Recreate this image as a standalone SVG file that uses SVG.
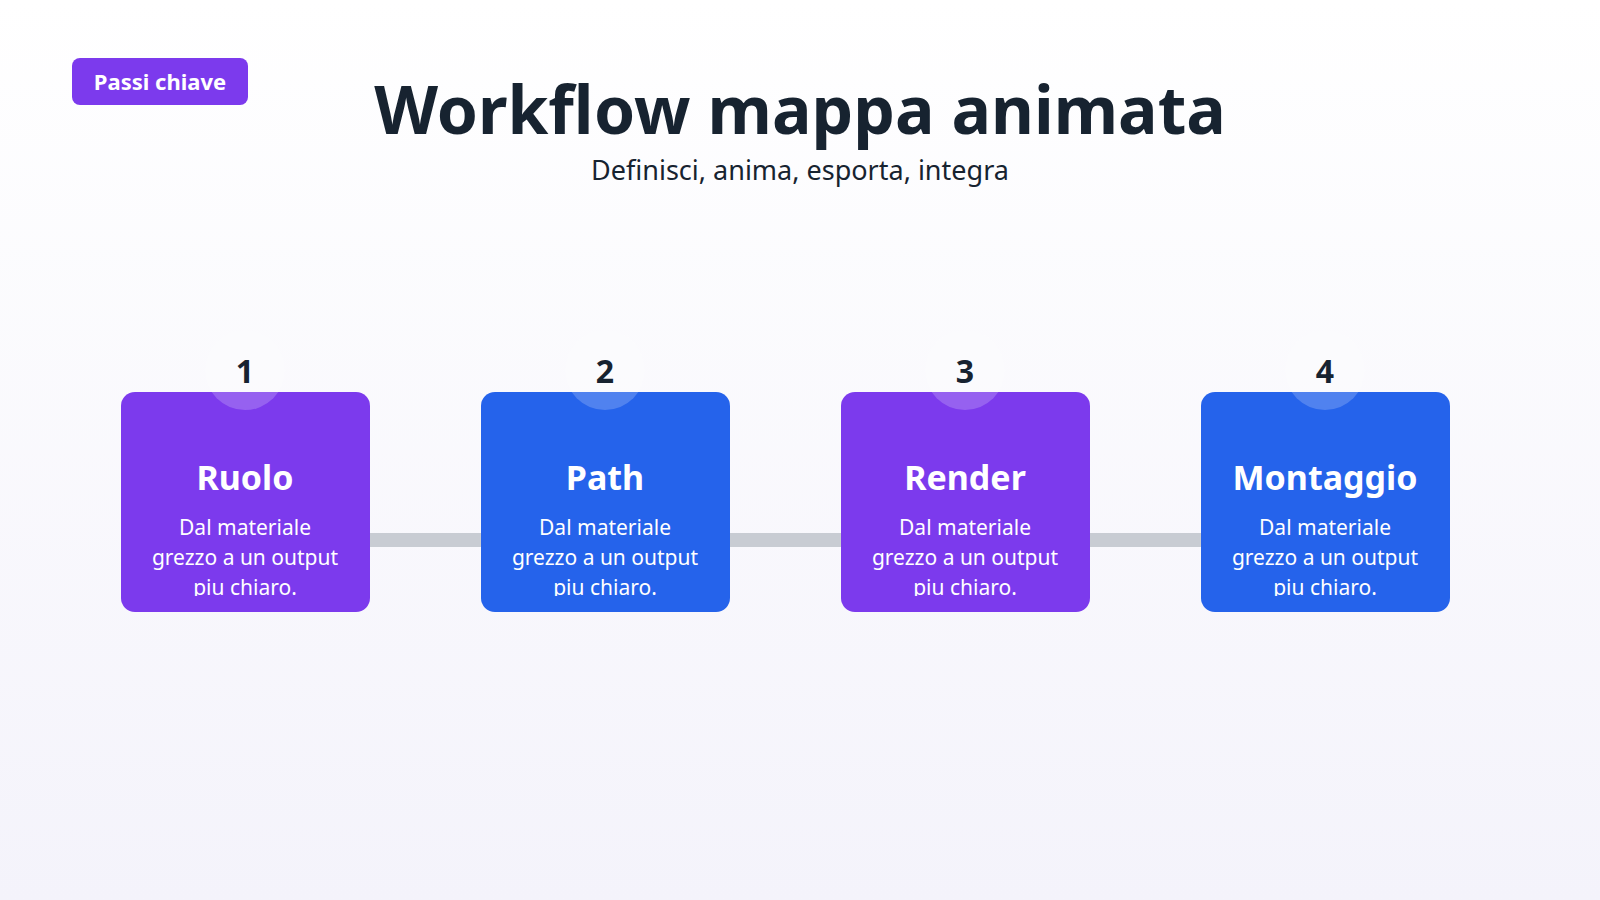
<svg xmlns="http://www.w3.org/2000/svg" width="1600" height="900" viewBox="0 0 1600 900">
<defs>
<linearGradient id="bg" x1="0" y1="0" x2="0" y2="1"><stop offset="0" stop-color="#ffffff"/><stop offset="1" stop-color="#f4f3fb"/></linearGradient>
<clipPath id="cl"><rect x="0" y="380" width="1600" height="216"/></clipPath>
</defs>
<style>
text{font-family:"Noto Sans","Open Sans",sans-serif;text-anchor:middle}
.t{font-size:34px;font-weight:700;fill:#fff}
.d{font-size:21px;fill:#fff}
.n{font-size:32px;font-weight:700;fill:#172330}
.p{fill:#7c3aed}.b{fill:#2563eb}
</style>
<rect width="1600" height="900" fill="url(#bg)"/>
<g id="badge"><rect x="72" y="58" width="176" height="47" rx="8" fill="#7c3aed"/><text x="160" y="90" style="font-size:22px;font-weight:700;fill:#fff">Passi chiave</text></g>
<text x="800" y="134" style="font-size:66px;font-weight:700;fill:#172330">Workflow mappa animata</text>
<text x="800" y="180" style="font-size:27px;fill:#172330">Definisci, anima, esporta, integra</text>
<g id="connectors"><rect x="360" y="533" width="860" height="14" fill="#c8ccd3"/></g>
<g id="n1"><rect class="p" x="121" y="392" width="249" height="220" rx="14"/><circle cx="245" cy="370" r="40" fill="#fff" fill-opacity="0.2"/><text class="n" x="245" y="383">1</text><text class="t" x="245" y="490">Ruolo</text><g clip-path="url(#cl)"><text class="d" x="245" y="535">Dal materiale</text><text class="d" x="245" y="565">grezzo a un output</text><text class="d" x="245" y="595">piu chiaro.</text></g></g>
<g id="n2"><rect class="b" x="481" y="392" width="249" height="220" rx="14"/><circle cx="605" cy="370" r="40" fill="#fff" fill-opacity="0.2"/><text class="n" x="605" y="383">2</text><text class="t" x="605" y="490">Path</text><g clip-path="url(#cl)"><text class="d" x="605" y="535">Dal materiale</text><text class="d" x="605" y="565">grezzo a un output</text><text class="d" x="605" y="595">piu chiaro.</text></g></g>
<g id="n3"><rect class="p" x="841" y="392" width="249" height="220" rx="14"/><circle cx="965" cy="370" r="40" fill="#fff" fill-opacity="0.2"/><text class="n" x="965" y="383">3</text><text class="t" x="965" y="490">Render</text><g clip-path="url(#cl)"><text class="d" x="965" y="535">Dal materiale</text><text class="d" x="965" y="565">grezzo a un output</text><text class="d" x="965" y="595">piu chiaro.</text></g></g>
<g id="n4"><rect class="b" x="1201" y="392" width="249" height="220" rx="14"/><circle cx="1325" cy="370" r="40" fill="#fff" fill-opacity="0.2"/><text class="n" x="1325" y="383">4</text><text class="t" x="1325" y="490">Montaggio</text><g clip-path="url(#cl)"><text class="d" x="1325" y="535">Dal materiale</text><text class="d" x="1325" y="565">grezzo a un output</text><text class="d" x="1325" y="595">piu chiaro.</text></g></g>
</svg>
